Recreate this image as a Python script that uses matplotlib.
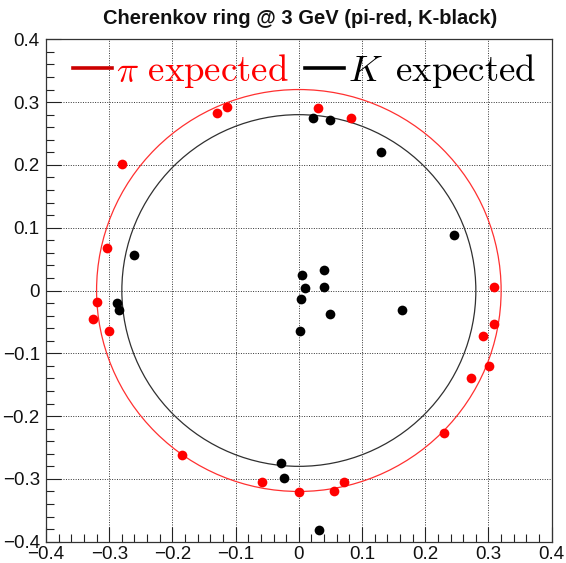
import matplotlib
matplotlib.use("Agg")
import matplotlib.pyplot as plt
from matplotlib.patches import Circle
from matplotlib.lines import Line2D
from matplotlib.ticker import MultipleLocator

# hit positions on the ring plane
pi_x = [-0.130, -0.113, 0.031, 0.082, -0.279, -0.304, -0.320, -0.325, -0.300, 0.309,
        0.309, 0.291, 0.301, 0.273, 0.230, 0.071, 0.055, 0.000, -0.058, -0.185]
pi_y = [0.282, 0.292, 0.291, 0.275, 0.201, 0.0675, -0.018, -0.046, -0.065, 0.006,
        -0.053, -0.073, -0.121, -0.140, -0.227, -0.305, -0.320, -0.321, -0.305, -0.262]

k_x = [0.022, 0.050, 0.130, 0.245, -0.260, -0.287, -0.285, 0.005, 0.040, 0.010,
       0.039, 0.003, 0.050, 0.163, 0.002, -0.028, -0.024, 0.032]
k_y = [0.275, 0.272, 0.221, 0.088, 0.056, -0.020, -0.031, 0.024, 0.032, 0.004,
       0.006, -0.014, -0.037, -0.031, -0.065, -0.275, -0.299, -0.381]

# expected ring radii
r_pi = 0.32
r_k = 0.28

ticks = [-0.4, -0.3, -0.2, -0.1, 0, 0.1, 0.2, 0.3, 0.4]
tick_labels = ["\u22120.4", "\u22120.3", "\u22120.2", "\u22120.1", "0", "0.1", "0.2", "0.3", "0.4"]

plt.rcParams["font.family"] = ["Liberation Sans", "DejaVu Sans"]
plt.rcParams["mathtext.fontset"] = "cm"

W, H = 566, 563
fig = plt.figure(figsize=(W / 100, H / 100), dpi=100)
ax = fig.add_axes([46 / W, 1 - 541.7 / H, (551.7 - 46) / W, (541.7 - 39.3) / H])

ax.set_xlim(-0.4, 0.4)
ax.set_ylim(-0.4, 0.4)

ax.add_patch(Circle((0, 0), r_pi, fill=False, ec="#ff3030", lw=0.9, zorder=2))
ax.add_patch(Circle((0, 0), r_k, fill=False, ec="#303030", lw=0.9, zorder=2))

ax.plot(pi_x, pi_y, "o", color="red", ms=7, mec="none", zorder=3)
ax.plot(k_x, k_y, "o", color="black", ms=7, mec="none", zorder=3)

ax.set_xticks(ticks)
ax.set_xticklabels(tick_labels)
ax.set_yticks(ticks)
ax.set_yticklabels(tick_labels)
ax.xaxis.set_minor_locator(MultipleLocator(0.02))
ax.yaxis.set_minor_locator(MultipleLocator(0.02))
ax.tick_params(which="both", direction="in", width=0.8, color="#222222",
               top=False, right=False, labelsize=13.5, labelcolor="#111111")
ax.tick_params(which="major", length=11)
ax.tick_params(which="minor", length=5.5)
ax.tick_params(axis="x", pad=3)
ax.tick_params(axis="y", pad=4.5)

ax.grid(True, which="major", linestyle=(0, (1, 1.5)), color="#333333", lw=0.7)
ax.set_axisbelow(True)
for s in ax.spines.values():
    s.set_linewidth(0.9)
    s.set_color("#333333")

fig.text(300 / W, 1 - 18 / H, "Cherenkov ring @ 3 GeV (pi-red, K-black)",
         ha="center", va="center", fontsize=14.5, fontweight="bold", color="#111111")

handles = [Line2D([], [], color="#cc0000", lw=2.6),
           Line2D([], [], color="black", lw=2.6)]
labels = [r"$\pi\ \mathrm{expected}$", r"$K\ \,\mathrm{expected}$"]
leg = fig.legend(handles, labels, loc="center left",
                 bbox_to_anchor=(73 / W, 1 - 71 / H), ncol=2, frameon=False,
                 fontsize=26.5, handlelength=1.05, handletextpad=0.12,
                 columnspacing=0.45, borderpad=0, borderaxespad=0,
                 labelcolor=["red", "black"])

fig.savefig("out.png", dpi=100)
